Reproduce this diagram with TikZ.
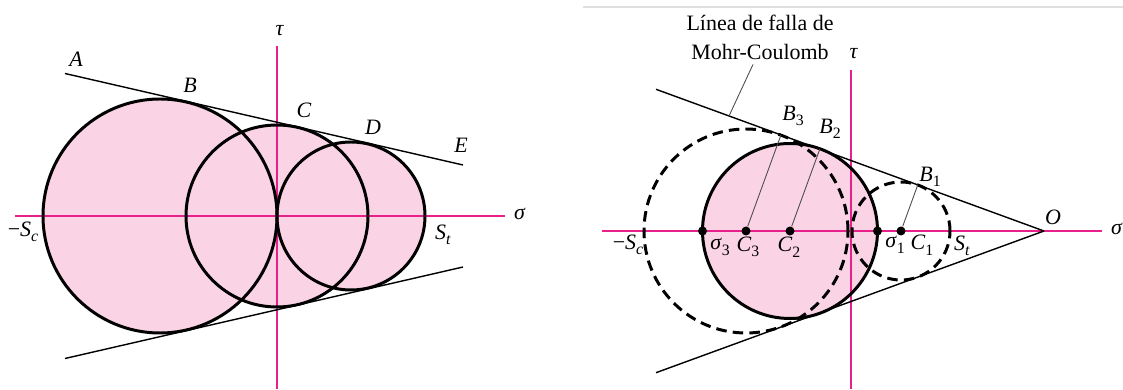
\documentclass[tikz,border=0pt]{standalone}
\usepackage{fontspec}
\setmainfont{Liberation Serif}
\usetikzlibrary{positioning, calc}
\definecolor{mohrpink}{RGB}{250,212,228}
\definecolor{axmag}{RGB}{232,32,140}
\newcommand{\sbs}[1]{\raisebox{-0.55ex}{\fontsize{9}{10}\selectfont #1}}

\begin{document}
\begin{tikzpicture}[
    x=0.02cm, y=0.02cm,
    font=\fontsize{12.5}{16.5}\selectfont,
    axis/.style={draw=axmag, line width=1.3pt},
    mohr/.style={draw=black, line width=1.7pt},
    mohrdash/.style={mohr, dash pattern=on 6pt off 3.5pt},
    envelope/.style={line width=0.8pt},
    leader/.style={line width=0.5pt, draw=black!70},
    dot/.style={circle, fill=black, inner sep=0pt, minimum size=0.18cm},
    lbl/.style={inner sep=1pt}
]
\useasboundingbox (0,0) rectangle (1123,389);

% left: Mohr circles under the envelope
\begin{scope}[shift={(277,173)}]
\fill[mohrpink] (-117,0) circle (117);
\fill[mohrpink] (0,0) circle (91);
\fill[mohrpink] (74,0) circle (74);

\coordinate (sL1) at (-262,0);
\coordinate (sL2) at (228,0);
\coordinate (tL1) at (0,170);
\coordinate (tL2) at (0,-173);
\draw[axis] (sL1) -- (sL2);
\draw[axis] (tL1) -- (tL2);

\draw[mohr] (-117,0) circle (117);
\draw[mohr] (0,0) circle (91);
\draw[mohr] (74,0) circle (74);

\coordinate (ptA) at (-212,142.5);
\coordinate (ptE) at (186,51);
\coordinate (ptA2) at (-212,-142.5);
\coordinate (ptE2) at (186,-51);
\draw[envelope] (ptA) -- (ptE);
\draw[envelope] (ptA2) -- (ptE2);

\node[lbl] (labA) at (-201,157) {\textit{A}};
\node[lbl] (labB) at (-87,131) {\textit{B}};
\node[lbl] (labC) at (27,106) {\textit{C}};
\node[lbl] (labD) at (96,89) {\textit{D}};
\node[lbl] (labE) at (184,71) {\textit{E}};
\node[lbl] (labSc) at (-254,-16) {−\textit{S}\sbs{\textit{c}}};
\node[lbl] (labSt) at (166,-19) {\textit{S}\sbs{\textit{t}}};
\node[lbl] (sigL) at (243,2) {\textit{σ}};
\node[lbl] (tauL) at (3,185) {\textit{τ}};
\end{scope}

% right: envelope through O
\draw[line width=1.2pt, draw=black!12] (583,382) -- (1123,382);

\begin{scope}[shift={(851,158)}]
\fill[mohrpink] (-61,0) circle (87.5);

\coordinate (sR1) at (-249,0);
\coordinate (sR2) at (251,0);
\coordinate (tR1) at (0,161);
\coordinate (tR2) at (0,-158);
\draw[axis] (sR1) -- (sR2);
\draw[axis] (tR1) -- (tR2);

\draw[mohr] (-61,0) circle (87.5);
\draw[mohrdash] (-105,0) circle (102);
\draw[mohrdash] (50,0) circle (49);

\coordinate (O) at (193,0);
\coordinate (up) at (-195,141.7);
\coordinate (lo) at (-195,-141.7);
\draw[envelope] (O) -- (up);
\draw[envelope] (O) -- (lo);

\node[dot] (s3) at (-148.5,0) {};
\node[dot] (c3) at (-105,0) {};
\node[dot] (c2) at (-61,0) {};
\node[dot] (s1) at (26.5,0) {};
\node[dot] (c1) at (50,0) {};

\coordinate (B3) at ($(c3)+(70:102)$);
\coordinate (B2) at ($(c2)+(70:87.5)$);
\coordinate (B1) at ($(c1)+(70:49)$);
\draw[leader] (c3) -- (B3);
\draw[leader] (c2) -- (B2);
\draw[leader] (c1) -- (B1);

\node[lbl] (labB3) at (-58,115) {\textit{B}\sbs{3}};
\node[lbl] (labB2) at (-21,102) {\textit{B}\sbs{2}};
\node[lbl] (labB1) at (79,54) {\textit{B}\sbs{1}};
\node[lbl] (labs3) at (-131,-16) {\textit{σ}\sbs{3}};
\node[lbl] (labC3) at (-103,-16) {\textit{C}\sbs{3}};
\node[lbl] (labC2) at (-62,-16) {\textit{C}\sbs{2}};
\node[lbl] (labs1) at (44,-14) {\textit{σ}\sbs{1}};
\node[lbl] (labC1) at (71,-14) {\textit{C}\sbs{1}};
\node[lbl] (labSt2) at (111,-15) {\textit{S}\sbs{\textit{t}}};
\node[lbl] (labSc2) at (-223,-14) {−\textit{S}\sbs{\textit{c}}};
\node[lbl] (labO) at (202,14) {\textit{O}};
\node[lbl] (sigR) at (266,2) {\textit{σ}};
\node[lbl] (tauR) at (3,177) {\textit{τ}};

\node[lbl, align=center] (falla) at (-91,194) {Línea de falla de\\Mohr-Coulomb};
\coordinate (lt) at (-122,115);
\draw[leader] ($(falla.south)+(-7,-3)$) -- (lt);
\end{scope}
\end{tikzpicture}
\end{document}
